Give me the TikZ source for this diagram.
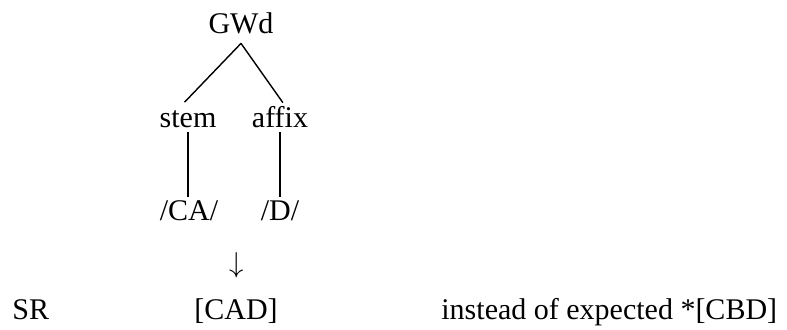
\documentclass[tikz,border=0pt]{standalone}
\usepackage{fontspec}
\setmainfont{Liberation Serif}
\usetikzlibrary{positioning}

\begin{document}
\begin{tikzpicture}[x=0.5pt,y=-0.5pt]
  \tikzset{word/.style={font=\fontsize{15}{18}\selectfont, inner sep=0pt, anchor=base},
    tree/.style={word, inner ysep=4.5pt, text height=10pt, text depth=0pt},
    branch/.style={line width=0.7pt, shorten <=-2.5pt, shorten >=-2.5pt}
  }
  \useasboundingbox (0,0) rectangle (787,330);

  \node[tree] (GWd) at (241,34) {GWd};
  \node[tree] (stem) at (188,128) {stem};
  \node[tree] (affix) at (280,128) {affix};
  \node[tree] (CA) at (189,221) {/CA/};
  \node[tree] (D) at (280,221) {/D/};

  \node[word, anchor=center] (arrow) at (237,265) {$\downarrow$};
  \node[word] (CAD) at (236,320) {[CAD]};
  \node[word, anchor=base west] (SR) at (12,320) {SR};
  \node[word, anchor=base west] (CBD) at (441,320) {instead of expected *[CBD]};

  \draw[branch, shorten <=0pt] (GWd.south) -- (stem.north);
  \draw[branch, shorten <=0pt] (GWd.south) -- (affix.north);
  \draw[branch] (stem.south) -- (stem.south |- CA.north);
  \draw[branch] (affix.south) -- (affix.south |- D.north);
\end{tikzpicture}
\end{document}
